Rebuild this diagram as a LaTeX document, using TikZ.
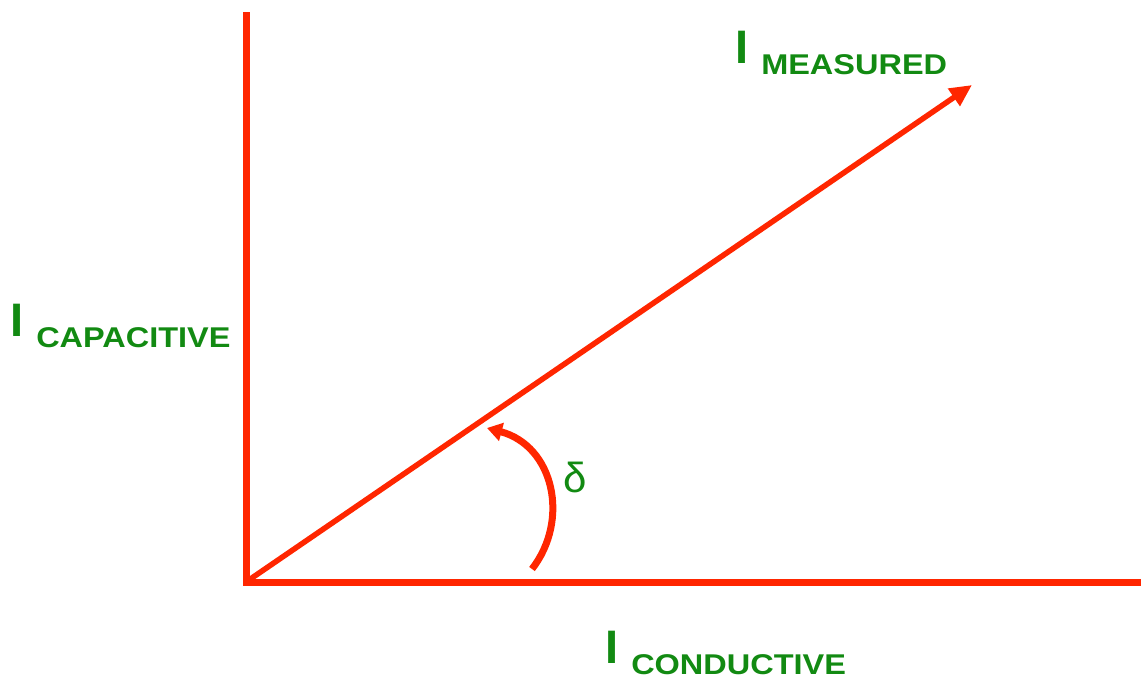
\documentclass[tikz,border=0pt]{standalone}
\usepackage{fontspec}
\setmainfont{Liberation Sans}
\usetikzlibrary{arrows.meta}
\definecolor{vecred}{RGB}{255,38,0}
\definecolor{labgreen}{RGB}{18,138,18}
\newcommand{\curlabel}[1]{{\fontsize{47}{47}\selectfont\bfseries I}\hspace{13pt}%
  \raisebox{-11pt}{\scalebox{1.16}[1.02]{\fontsize{28}{28}\selectfont\bfseries #1}}}

\begin{document}
\begin{tikzpicture}[x=1pt,y=-1pt,
  axis/.style={draw=vecred,line width=7pt,line join=miter},
  vector/.style={draw=vecred,line width=5.5pt,-{Triangle[length=22pt,width=20pt]}},
  anglearrow/.style={draw=vecred,line width=7pt,-{Triangle[length=15pt,width=18pt]}},
  lab/.style={text=labgreen,anchor=base west,inner sep=0pt},
]
  \useasboundingbox (0,0) rectangle (1141,683);
  \coordinate (O)    at (246,582);
  \coordinate (ytop) at (246,12);
  \coordinate (xend) at (1141,582);
  \coordinate (tip)  at (972,85);
  \coordinate (arcs) at (532,569);
  \coordinate (arce) at (487,428);
  % axes and measured current
  \draw[axis] (ytop) -- (O) -- (xend);
  \draw[vector] (O) -- (tip);
  % loss angle
  \draw[anglearrow] (arcs) .. controls (570,520) and (554,446) .. (arce);
  \node[text=labgreen,inner sep=0pt,font=\fontsize{42}{42}\selectfont] (delta) at (575,477) {δ};
  % labels
  \node[lab] (imeas) at (735,63)  {\curlabel{MEASURED}};
  \node[lab] (icap)  at (10,336)  {\curlabel{CAPACITIVE}};
  \node[lab] (icond) at (605,663) {\curlabel{CONDUCTIVE}};
\end{tikzpicture}
\end{document}
